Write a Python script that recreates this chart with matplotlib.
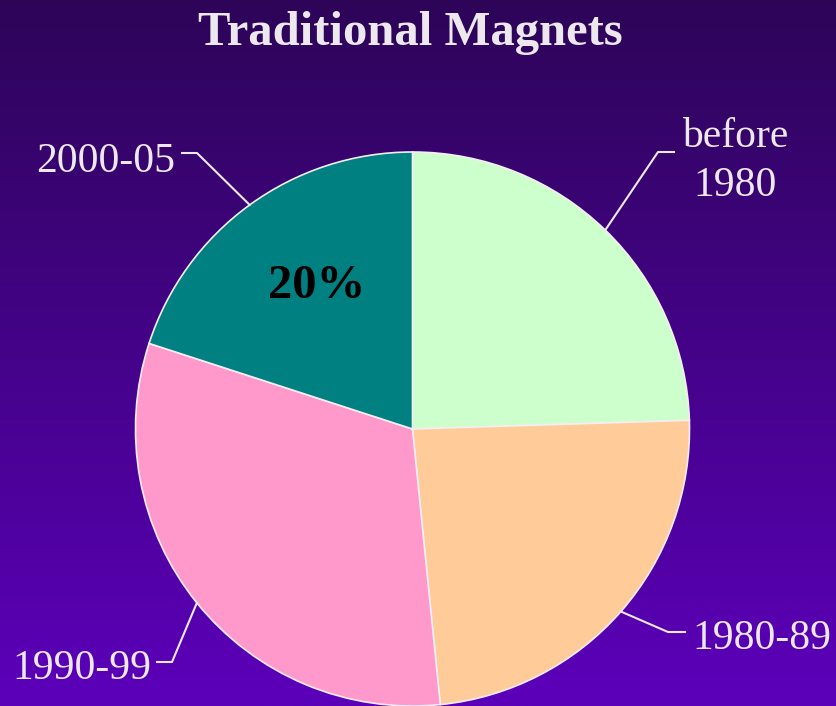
import numpy as np
import matplotlib
matplotlib.use('Agg')
import matplotlib.pyplot as plt

# data (share of magnets, percent)
labels = ['before\n1980', '1980-89', '1990-99', '2000-05']
values = [24.5, 23.9, 31.6, 20.0]
colors = ['#ccffcc', '#ffcc99', '#ff99cc', '#008080']
title = 'Traditional Magnets'
pct_label = '20%'

W, H = 837, 706
txt_col = '#ece8ee'
plt.rcParams['font.family'] = ['Liberation Serif', 'DejaVu Serif']

fig = plt.figure(figsize=(W / 100, H / 100), dpi=100)
ax = fig.add_axes([0, 0, 1, 1])
ax.set_xlim(0, W)
ax.set_ylim(0, H)
ax.axis('off')

# background gradient, dark purple at top to brighter violet at bottom
top = np.array([45, 5, 88]) / 255
bot = np.array([92, 0, 186]) / 255
t = np.linspace(0, 1, 256)[:, None]
grad = (top * (1 - t) + bot * t)[:, None, :]
ax.imshow(grad, extent=[0, W, 0, H], aspect='auto', zorder=0, origin='upper')

cx, cy, r = 412.5, H - 429, 277
wedges, _ = ax.pie(values, colors=colors, startangle=90,
                   counterclock=False, center=(cx, cy), radius=r,
                   wedgeprops=dict(edgecolor='#f4eef4', linewidth=1.2))
for w in wedges:
    w.set_zorder(2)
ax.set_xlim(0, W)
ax.set_ylim(0, H)
ax.set_aspect('equal')

ax.text(410, H - 45, title, ha='center', va='baseline', fontsize=35,
        fontweight='bold', color=txt_col)

# leader lines: start at wedge mid angle, elbow, then short horizontal
elbows = [(658, 152, 674), (668, 632, 685), (172, 662, 157), (197, 153, 182)]
text_pos = [(735, 196, 'center'), (692, 649, 'left'), (151, 679, 'right'), (175, 172, 'right')]
for w, lab, (ex, ey, hx), (tx, ty, ha) in zip(wedges, labels, elbows, text_pos):
    mid = np.deg2rad((w.theta1 + w.theta2) / 2)
    sx, sy = cx + r * np.cos(mid), cy + r * np.sin(mid)
    ax.plot([sx, ex, hx], [sy, H - ey, H - ey], color=txt_col, lw=1.5, zorder=3)
    ax.text(tx, H - ty, lab, ha=ha, va='baseline', fontsize=30, color=txt_col,
            linespacing=1.35, multialignment='center', zorder=4)

ax.text(317, H - 298, pct_label, ha='center', va='baseline', fontsize=35,
        fontweight='bold', color='black', zorder=4)

fig.savefig('out.png', dpi=100)
